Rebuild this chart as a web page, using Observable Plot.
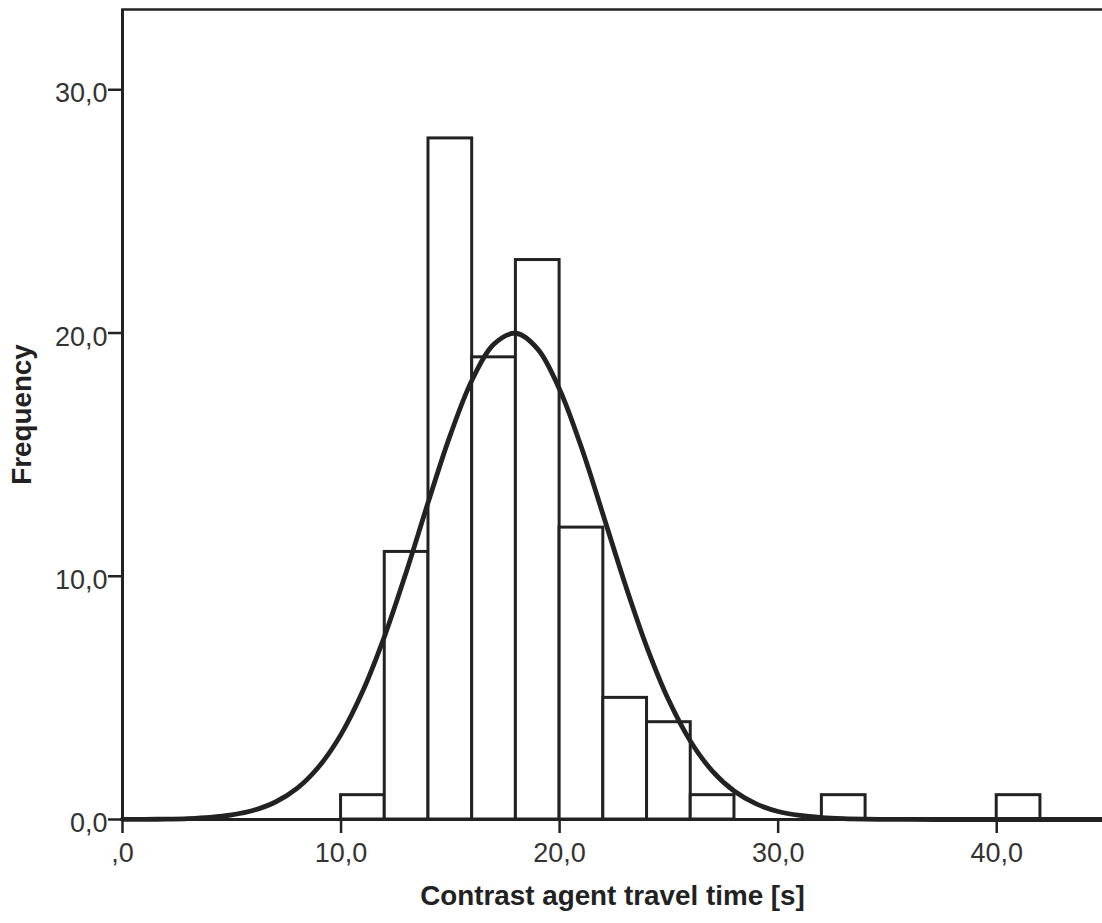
<!DOCTYPE html>
<html>
<head>
<meta charset="utf-8">
<script src="https://cdn.jsdelivr.net/npm/d3@7"></script>
<script src="https://cdn.jsdelivr.net/npm/@observablehq/plot@0.6"></script>
<style>
  body { margin: 0; background: #fff; }
  #chart svg { display: block; }
</style>
</head>
<body>
<div id="chart"></div>
<script>
// Histogram bins (seconds) and frequencies
const binStart  = [10, 12, 14, 16, 18, 20, 22, 24, 26, 32, 40];
const binEnd    = [12, 14, 16, 18, 20, 22, 24, 26, 28, 34, 42];
const frequency = [ 1, 11, 28, 19, 23, 12,  5,  4,  1,  1,  1];

// Fitted normal curve
const curveX = [0, 1, 2, 3, 4, 5, 6, 7, 8, 9, 10, 11, 12, 13, 14, 15, 16, 17, 18, 19, 20,
                21, 22, 23, 24, 25, 26, 27, 28, 29, 30, 31, 32, 33, 34, 35, 36, 38, 40, 42, 44, 45];
const curveY = [0.003, 0.007, 0.017, 0.04, 0.09, 0.19, 0.38, 0.72, 1.29, 2.19, 3.5, 5.29, 7.56, 10.22,
                13.08, 15.81, 18.08, 19.55, 19.99, 19.34, 17.68, 15.29, 12.5, 9.67, 7.07, 4.89, 3.2,
                1.98, 1.16, 0.64, 0.33, 0.165, 0.077, 0.034, 0.014, 0.006, 0.002, 0, 0, 0, 0, 0];

// Ticks and labels
const xTicks = [0, 10, 20, 30, 40];
const xTickLabels = [",0", "10,0", "20,0", "30,0", "40,0"];
const yTicks = [0, 10, 20, 30];
const yTickLabels = ["0,0", "10,0", "20,0", "30,0"];
const xTitle = "Contrast agent travel time [s]";
const yTitle = "Frequency";

const bins = binStart.map((s, i) => ({x1: s, x2: binEnd[i], y: frequency[i]}));
const curve = curveX.map((x, i) => ({x, y: curveY[i]}));

const ink = "#222";
const font = "'Liberation Sans', Arial, Helvetica, sans-serif";

const chart = Plot.plot({
  width: 1102,
  height: 923,
  marginLeft: 122,
  marginRight: 0,
  marginTop: 9,
  marginBottom: 104,
  style: {fontFamily: font, background: "#fff", color: ink, overflow: "visible"},
  x: {domain: [0, 44.84]},
  y: {domain: [0, 33.3]},
  marks: [
    Plot.rectY(bins, {x1: "x1", x2: "x2", y: "y", fill: "white", stroke: ink, strokeWidth: 3}),
    Plot.line(curve, {x: "x", y: "y", stroke: ink, strokeWidth: 4.8, curve: "catmull-rom"}),
    Plot.ruleY([0], {stroke: ink, strokeWidth: 3}),
    Plot.ruleX([0], {stroke: ink, strokeWidth: 3}),
    Plot.frame({anchor: "top", stroke: ink, strokeWidth: 2.5}),
    // x ticks
    Plot.axisX({
      ticks: xTicks, tickFormat: () => "",
      tickSize: 14, stroke: ink, strokeWidth: 2.5, label: null
    }),
    // x tick labels
    Plot.axisX({
      ticks: xTicks,
      tickFormat: d => xTickLabels[xTicks.indexOf(d)],
      tickSize: 0, tickPadding: 23, lineAnchor: "top", fontSize: 27, fill: "#333",
      label: null
    }),
    // y ticks
    Plot.axisY({
      ticks: yTicks, tickFormat: () => "",
      tickSize: 14, stroke: ink, strokeWidth: 2.5, label: null
    }),
    // y tick labels
    Plot.axisY({
      ticks: yTicks,
      tickFormat: d => yTickLabels[yTicks.indexOf(d)],
      tickSize: 0, tickPadding: 15, dy: 4, fontSize: 27, fill: "#333",
      label: null
    }),
    Plot.text([xTitle], {
      text: d => d, frameAnchor: "bottom", lineAnchor: "middle", textAnchor: "middle", dy: 77,
      fontSize: 27.8, fontWeight: "bold", fill: ink
    }),
    Plot.text([yTitle], {
      text: d => d, frameAnchor: "left", lineAnchor: "middle", textAnchor: "middle", rotate: -90, dx: -100,
      fontSize: 27.8, fontWeight: "bold", fill: ink
    })
  ]
});

document.getElementById("chart").appendChild(chart);
</script>
</body>
</html>
